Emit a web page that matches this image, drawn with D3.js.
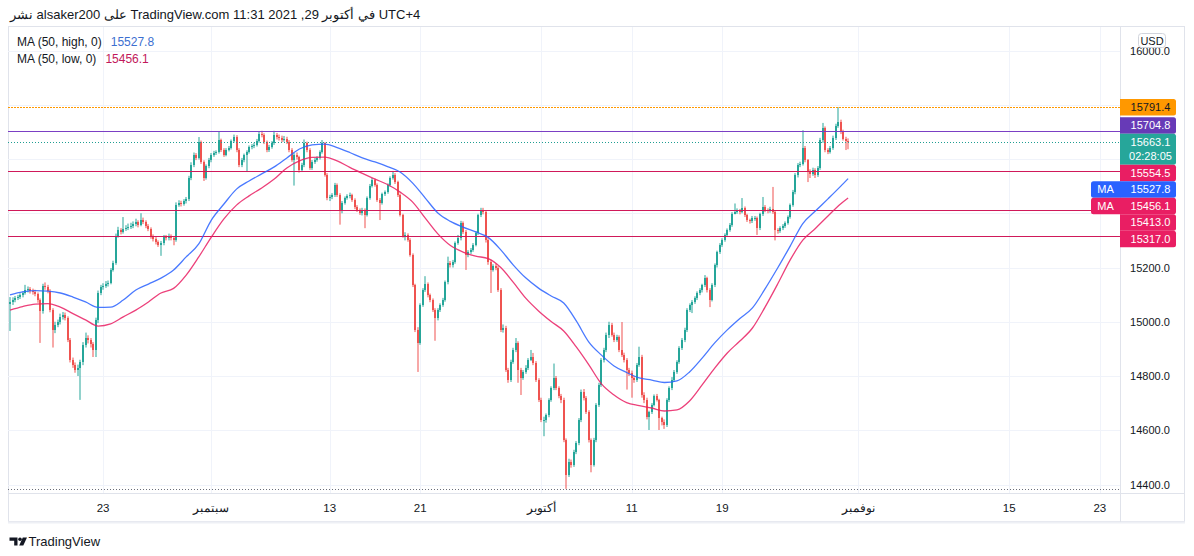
<!DOCTYPE html>
<html><head><meta charset="utf-8">
<script src="https://cdn.jsdelivr.net/npm/d3@7"></script>
<style>
body{margin:0;background:#fff;}
svg{display:block;font-family:"Liberation Sans",Arial,sans-serif;}
</style></head>
<body><svg id="c" width="1194" height="556"></svg>
<script>
// ---------------- DATA (4h candles, NAS100 CFD) ----------------
const firstOpen = 15065;
const closes = [
15073,15080,15087,15091,15098,15106,15117,15121,15113,15110,
15102,15080,15039,15132,15128,15113,15043,14970,14988,14999,
15018,15025,15014,14933,14859,14841,14822,14830,14852,14915,
14941,14933,14918,14896,15007,15106,15128,15132,15139,15143,
15191,15217,15316,15338,15331,15342,15345,15349,15353,15360,
15368,15357,15375,15368,15353,15342,15316,15305,15294,15283,
15290,15312,15309,15316,15309,15301,15430,15438,15434,15445,
15452,15530,15578,15615,15604,15663,15589,15530,15574,15596,
15615,15622,15626,15670,15633,15615,15633,15641,15667,15681,
15633,15578,15596,15615,15626,15644,15648,15652,15667,15692,
15689,15663,15633,15644,15659,15689,15681,15678,15670,15674,
15663,15633,15596,15615,15607,15559,15578,15659,15633,15567,
15589,15596,15604,15626,15659,15541,15456,15460,15467,15504,
15467,15408,15438,15456,15464,15467,15449,15423,15412,15401,
15412,15393,15456,15501,15523,15504,15449,15438,15471,15478,
15504,15530,15541,15515,15467,15393,15316,15320,15301,15246,
15135,14970,14922,15062,15117,15139,15098,15080,15043,15014,
15043,15062,15080,15146,15217,15209,15220,15290,15309,15364,
15331,15246,15257,15265,15283,15327,15393,15412,15405,15301,
15220,15191,15206,15198,15117,14970,14977,14822,14785,14852,
14896,14922,14822,14793,14815,14830,14859,14870,14848,14785,
14712,14638,14638,14656,14712,14756,14793,14756,14726,14712,
14564,14435,14483,14472,14520,14553,14638,14741,14719,14667,
14564,14472,14564,14693,14767,14859,14896,14952,14988,14952,
14933,14944,14896,14878,14859,14822,14811,14793,14785,14841,
14870,14730,14712,14649,14667,14693,14726,14712,14645,14630,
14619,14712,14756,14785,14815,14852,14904,14933,14970,15043,
15062,15073,15087,15106,15117,15135,15161,15117,15080,15135,
15209,15257,15283,15301,15320,15338,15357,15397,15405,15408,
15405,15419,15393,15375,15371,15382,15382,15345,15397,15423,
15412,15408,15416,15405,15338,15334,15345,15353,15364,15386,
15430,15478,15541,15578,15582,15641,15596,15552,15545,15559,
15541,15567,15670,15714,15633,15626,15641,15678,15722,15736,
15700,15674,15666,15663.1];
const highs = [
15091,15090,15095,15099,15105,15112,15136,15130,15128,15122,
15118,15108,15086,15140,15145,15136,15120,15050,15000,15008,
15030,15036,15034,15020,14940,14868,14850,14842,14860,14925,
14960,14950,14940,14925,15015,15115,15136,15142,15150,15152,
15198,15225,15325,15350,15345,15386,15356,15362,15365,15370,
15380,15374,15400,15384,15374,15360,15348,15322,15312,15300,
15298,15320,15320,15325,15322,15315,15440,15448,15446,15452,
15460,15538,15588,15624,15622,15681,15668,15595,15580,15604,
15622,15630,15632,15700,15675,15640,15640,15648,15672,15690,
15688,15640,15604,15620,15632,15650,15655,15660,15674,15700,
15704,15695,15668,15652,15666,15704,15696,15690,15686,15685,
15682,15670,15640,15622,15624,15612,15586,15672,15664,15640,
15596,15604,15610,15632,15670,15662,15548,15468,15474,15512,
15510,15474,15445,15462,15470,15476,15472,15455,15430,15418,
15420,15418,15462,15508,15530,15528,15510,15456,15476,15484,
15510,15536,15556,15548,15520,15472,15398,15330,15326,15308,
15252,15140,14980,15068,15124,15168,15145,15104,15086,15050,
15050,15068,15088,15152,15240,15224,15228,15296,15320,15372,
15370,15338,15264,15272,15290,15334,15398,15420,15420,15412,
15308,15228,15212,15214,15205,15124,14990,14985,14830,14860,
14904,14940,14928,14830,14822,14840,14866,14896,14885,14855,
14792,14720,14650,14662,14718,14762,14846,14800,14762,14734,
14720,14570,14495,14492,14528,14560,14645,14750,14752,14726,
14674,14570,14572,14700,14775,14866,14904,14960,15000,14996,
14960,14952,14950,14999,14886,14866,14830,14820,14800,14848,
14908,14878,14740,14720,14672,14700,14732,14734,14716,14650,
14640,14718,14762,14796,14822,14858,14910,14940,14978,15050,
15068,15080,15094,15112,15124,15140,15172,15166,15124,15142,
15215,15262,15290,15308,15326,15344,15364,15404,15436,15418,
15416,15456,15425,15398,15380,15390,15390,15388,15402,15460,
15430,15418,15424,15497,15412,15345,15352,15360,15370,15392,
15436,15486,15548,15585,15590,15706,15648,15600,15562,15568,
15566,15574,15678,15733,15720,15640,15648,15686,15730,15791.4,
15745,15708,15682,15676];
const lows = [
14966,15062,15072,15080,15084,15090,15100,15108,15104,15100,
15094,15070,14922,15030,15118,15105,15035,14905,14958,14980,
14990,15008,15005,14925,14850,14830,14812,14800,14712,14840,
14905,14920,14905,14870,14870,14995,15098,15118,15125,15130,
15138,15185,15210,15310,15322,15325,15335,15338,15342,15345,
15352,15348,15352,15360,15345,15334,15306,15296,15285,15276,
15243,15282,15300,15300,15300,15282,15295,15424,15425,15428,
15436,15445,15522,15570,15596,15598,15582,15519,15524,15566,
15588,15608,15615,15620,15626,15608,15610,15628,15635,15660,
15625,15570,15570,15588,15552,15620,15636,15640,15646,15660,
15680,15655,15625,15626,15638,15652,15672,15668,15662,15664,
15655,15625,15590,15502,15598,15550,15552,15570,15625,15560,
15560,15582,15590,15598,15620,15535,15448,15445,15452,15460,
15460,15358,15400,15432,15450,15455,15442,15415,15405,15394,
15392,15345,15388,15450,15495,15498,15442,15375,15432,15464,
15472,15498,15524,15508,15460,15388,15310,15300,15295,15240,
15128,14962,14815,14915,15055,15110,15090,15072,15036,14930,
15005,15036,15055,15074,15138,15200,15200,15214,15284,15300,
15324,15191,15238,15250,15258,15278,15320,15386,15396,15292,
15210,15106,15185,15190,15110,14962,14960,14815,14775,14778,
14845,14888,14775,14730,14786,14808,14822,14855,14840,14778,
14704,14630,14578,14628,14648,14705,14748,14748,14718,14700,
14556,14384,14428,14462,14465,14512,14545,14630,14710,14660,
14555,14445,14466,14556,14686,14760,14850,14888,14940,14945,
14925,14926,14888,14870,14850,14750,14800,14720,14775,14778,
14834,14720,14700,14640,14601,14660,14688,14706,14601,14618,
14605,14612,14704,14748,14778,14808,14845,14896,14925,14962,
15036,15032,15066,15080,15098,15108,15128,15108,15054,15075,
15128,15200,15250,15276,15295,15314,15332,15350,15396,15398,
15396,15400,15386,15368,15362,15364,15372,15320,15338,15390,
15404,15400,15402,15398,15300,15325,15328,15338,15346,15358,
15380,15424,15470,15532,15570,15576,15588,15515,15530,15538,
15530,15534,15560,15660,15625,15618,15620,15634,15670,15715,
15692,15668,15633,15636];

// Moving averages at these candle indices
const maIdx = [0,5,10,15,20,25,30,35,40,45,50,55,60,65,70,75,80,85,90,95,100,105,110,115,120,125,130,135,140,145,150,155,160,165,170,175,180,185,190,195,200,205,210,215,220,225,230,235,240,245,250,255,260,265,270,275,280,285,290,295,300,305,310,315,320,325,330,333];
const maHigh = [15099,15110,15115,15113,15106,15091,15073,15053,15054,15080,15117,15139,15161,15191,15239,15287,15375,15434,15489,15519,15545,15571,15604,15637,15652,15655,15642,15624,15604,15589,15572,15552,15511,15456,15401,15370,15349,15331,15311,15265,15209,15161,15124,15095,15069,15003,14925,14877,14837,14813,14793,14785,14776,14782,14815,14866,14922,14970,15012,15051,15121,15198,15279,15362,15408,15453,15499,15527.8];
const maLow = [15043,15056,15065,15067,15054,15030,15007,14984,14992,15018,15043,15073,15106,15123,15172,15239,15312,15379,15430,15464,15493,15526,15567,15593,15606,15607,15593,15569,15547,15526,15506,15478,15441,15382,15324,15281,15257,15242,15233,15200,15145,15086,15040,15001,14966,14907,14841,14771,14730,14702,14691,14682,14671,14675,14708,14767,14829,14885,14929,14977,15054,15139,15228,15301,15344,15390,15434,15456.1];

const priceTicks = [14400,14600,14800,15000,15200,15400,15600,15800,16000];
const timeTickIdx = [37,80,127,163,211,247,283,337,397,433];
const timeTickLabels = ["23","سبتمبر","13","21","أكتوبر","11","19","نوفمبر","15","23"];

const levelValues = [15791.4, 15704.8, 15663.1, 15554.5, 15413.0, 15317.0];
const levelStyles = ["dotted-orange","purple","dotted-teal","crimson","crimson","crimson"];
const countdown = "02:28:05";
const titleText = "نشر alsaker200 على TradingView.com في أكتوبر 29, 2021 11:31 UTC+4";

// ---------------- DRAWING ----------------
const svg = d3.select("#c");
const P = {l:8, r:1120, t:27, b:493};
const x = d3.scaleLinear().domain([0, closes.length-1]).range([10, 848.1]);
const y = d3.scaleLinear().domain([14400, 15200]).range([484.5, 267.5]);
const TXT = "#131722";
const C = {up:"#26a69a", down:"#ef5350", blue:"#2962ff", pink:"#e91e63", crimson:"#d0195a",
           purple:"#673ab7", orange:"#ff9800", teal:"#26a69a", grid:"#f0f3fa", border:"#e0e3eb"};

svg.append("defs").append("clipPath").attr("id","clip")
  .append("rect").attr("x",P.l).attr("y",P.t).attr("width",P.r-P.l).attr("height",P.b-P.t);

// title
svg.append("text").attr("x",10).attr("y",19).attr("font-size",13).attr("fill",TXT)
  .attr("direction","ltr").text(titleText);

// frame
svg.append("rect").attr("x",8.5).attr("y",26.5).attr("width",1176).attr("height",495)
  .attr("fill","none").attr("stroke",C.border);
svg.append("line").attr("x1",8).attr("x2",1185).attr("y1",522.5).attr("y2",522.5)
  .attr("stroke","#eef0f5").attr("stroke-width",2);

// grid
const grid = svg.append("g").attr("clip-path","url(#clip)");
grid.selectAll("line.h").data(priceTicks).join("line")
  .attr("x1",P.l).attr("x2",P.r).attr("y1",d=>Math.round(y(d))+0.5).attr("y2",d=>Math.round(y(d))+0.5)
  .attr("stroke",C.grid);
grid.selectAll("line.v").data(timeTickIdx).join("line")
  .attr("y1",P.t).attr("y2",P.b).attr("x1",d=>Math.round(x(d))+0.5).attr("x2",d=>Math.round(x(d))+0.5)
  .attr("stroke",C.grid);

// candles
const plot = svg.append("g").attr("clip-path","url(#clip)");
const candles = closes.map((c,i)=>({i, o: i ? closes[i-1] : firstOpen, c, h: highs[i], l: lows[i]}));
const cg = plot.append("g");
cg.selectAll("rect.w").data(candles).join("rect")
  .attr("x",d=>Math.round(x(d.i))-0.5).attr("width",1)
  .attr("y",d=>y(d.h)).attr("height",d=>Math.max(1,y(d.l)-y(d.h)))
  .attr("fill",d=>d.c>=d.o?C.up:C.down);
cg.selectAll("rect.b").data(candles).join("rect")
  .attr("shape-rendering","crispEdges")
  .attr("x",d=>Math.round(x(d.i))-1).attr("width",2)
  .attr("y",d=>Math.round(y(Math.max(d.o,d.c))))
  .attr("height",d=>Math.max(1,Math.round(y(Math.min(d.o,d.c)))-Math.round(y(Math.max(d.o,d.c)))))
  .attr("fill",d=>d.c>=d.o?C.up:C.down);

// horizontal levels
const lowVal = d3.min(lows);
const lv = plot.append("g");
function hline(v, color, dash, w){
  const yy = Math.round(y(v))+0.5;
  lv.append("line").attr("x1",P.l).attr("x2",P.r).attr("y1",yy).attr("y2",yy)
    .attr("stroke",color).attr("stroke-width",w||1).attr("stroke-dasharray",dash||null);
}
hline(lowVal, "#6a6d78", "1,2");
levelValues.forEach((v,k)=>{
  const s = levelStyles[k];
  if(s==="dotted-orange") hline(v, "#ff9800", "2,1", 1.2);
  else if(s==="dotted-teal") hline(v, "#1f9e92", "1,2");
  else if(s==="purple") hline(v, "#7b3fc4", null, 1.2);
  else hline(v, C.crimson);
});

// moving averages
const line = d3.line().x((d,k)=>x(maIdx[k])).curve(d3.curveMonotoneX);
plot.append("path").datum(maHigh).attr("d",line.y(d=>y(d)))
  .attr("fill","none").attr("stroke",C.blue).attr("stroke-width",1.3).attr("stroke-opacity",0.85);
plot.append("path").datum(maLow).attr("d",line.y(d=>y(d)))
  .attr("fill","none").attr("stroke",C.pink).attr("stroke-width",1.3).attr("stroke-opacity",0.85);

// legend
const leg = svg.append("g").attr("font-size",12);
const l1 = leg.append("text").attr("x",17).attr("y",46).attr("fill",TXT).text("MA (50, high, 0)");
const l2 = leg.append("text").attr("x",17).attr("y",63).attr("fill",TXT).text("MA (50, low, 0)");
leg.append("text").attr("x",17+l1.node().getComputedTextLength()+9).attr("y",46).attr("fill","#3d6fd0")
  .text(d3.format(".1f")(maHigh[maHigh.length-1]));
leg.append("text").attr("x",17+l2.node().getComputedTextLength()+9).attr("y",63).attr("fill","#c2185b")
  .text(d3.format(".1f")(maLow[maLow.length-1]));

// separators
svg.append("line").attr("x1",P.r+0.5).attr("x2",P.r+0.5).attr("y1",P.t).attr("y2",522).attr("stroke",C.border);
svg.append("line").attr("x1",P.l).attr("x2",1185).attr("y1",P.b+0.5).attr("y2",P.b+0.5).attr("stroke",C.border);

// axis value labels (stacked) — computed first so hidden tick labels can be skipped
const boxes = [
  {v:levelValues[0], lines:[d3.format(".1f")(levelValues[0])], fill:C.orange, color:TXT},
  {v:levelValues[1], lines:[d3.format(".1f")(levelValues[1])], fill:C.purple, color:"#fff"},
  {v:levelValues[2], lines:[d3.format(".1f")(levelValues[2]), countdown], fill:C.teal, color:"#fff", anchor:true},
  {v:levelValues[3], lines:[d3.format(".1f")(levelValues[3])], fill:C.pink, color:"#fff"},
  {v:maHigh[maHigh.length-1], lines:[d3.format(".1f")(maHigh[maHigh.length-1])], fill:C.blue, color:"#fff", tag:"MA"},
  {v:maLow[maLow.length-1], lines:[d3.format(".1f")(maLow[maLow.length-1])], fill:C.pink, color:"#fff", tag:"MA"},
  {v:levelValues[4], lines:[d3.format(".1f")(levelValues[4])], fill:C.pink, color:"#fff"},
  {v:levelValues[5], lines:[d3.format(".1f")(levelValues[5])], fill:C.pink, color:"#fff"}
].sort((a,b)=>b.v-a.v);
boxes.forEach(b=>{ b.h = b.lines.length===2 ? 31 : 16.5; b.top = y(b.v)-8.2; });
const ai = boxes.findIndex(b=>b.anchor);
for(let k=ai+1;k<boxes.length;k++) boxes[k].top = Math.max(boxes[k].top, boxes[k-1].top+boxes[k-1].h);
for(let k=ai-1;k>=0;k--) boxes[k].top = Math.min(boxes[k].top, boxes[k+1].top-boxes[k].h);
const hidden = v => boxes.some(b => y(v) > b.top-4 && y(v) < b.top+b.h+4);

// price axis labels (those covered by value boxes are not visible)
const ax = svg.append("g").attr("font-size",11).attr("fill",TXT).attr("text-anchor","middle");
ax.selectAll("text").data(priceTicks.filter(v=>!hidden(v))).join("text")
  .attr("x",1150).attr("y",d=>y(d)+4).text(d=>d3.format(".1f")(d));

// time axis labels
svg.append("g").attr("font-size",11.5).attr("fill",TXT).attr("text-anchor","middle")
  .selectAll("text").data(timeTickIdx).join("text")
  .attr("x",d=>x(d)).attr("y",512).text((d,k)=>timeTickLabels[k]);

// USD badge
svg.append("rect").attr("x",1138.5).attr("y",33.5).attr("width",27).attr("height",14).attr("rx",3)
  .attr("fill","#fff").attr("stroke","#d1d4dc");
svg.append("text").attr("x",1152).attr("y",44.5).attr("font-size",11).attr("text-anchor","middle")
  .attr("fill",TXT).text("USD");

const bg = svg.append("g").attr("font-size",11).attr("text-anchor","middle");
function rRight(x0,y0,w,h,r){return `M${x0},${y0}H${x0+w-r}Q${x0+w},${y0} ${x0+w},${y0+r}V${y0+h-r}Q${x0+w},${y0+h} ${x0+w-r},${y0+h}H${x0}Z`;}
function rLeft(x0,y0,w,h,r){return `M${x0+w},${y0}H${x0+r}Q${x0},${y0} ${x0},${y0+r}V${y0+h-r}Q${x0},${y0+h} ${x0+r},${y0+h}H${x0+w}Z`;}
boxes.forEach(b=>{
  bg.append("path").attr("d",rRight(1120,b.top,56,b.h,2.5)).attr("fill",b.fill);
  b.lines.forEach((t,j)=>{
    bg.append("text").attr("x",1150.5).attr("y",b.top+12.3+j*14.5).attr("fill",b.color).text(t);
  });
  if(b.tag){
    bg.append("path").attr("d",rLeft(1091,b.top,29,b.h,2.5)).attr("fill",b.fill);
    bg.append("text").attr("x",1105.5).attr("y",b.top+12.3).attr("fill","#fff").text(b.tag);
  }
});

// footer logo
const lg = svg.append("g").attr("fill",TXT);
lg.append("path").attr("d","M9.5,537.5H17.5V545.5H14.2V540.8H9.5Z");
lg.append("circle").attr("cx",20).attr("cy",539.3).attr("r",1.8);
lg.append("path").attr("d","M22.8,537.5H27L23.3,545.5H19.2Z");
svg.append("text").attr("x",28.5).attr("y",545.5).attr("font-size",13).attr("fill",TXT).text("TradingView");
</script></body></html>
